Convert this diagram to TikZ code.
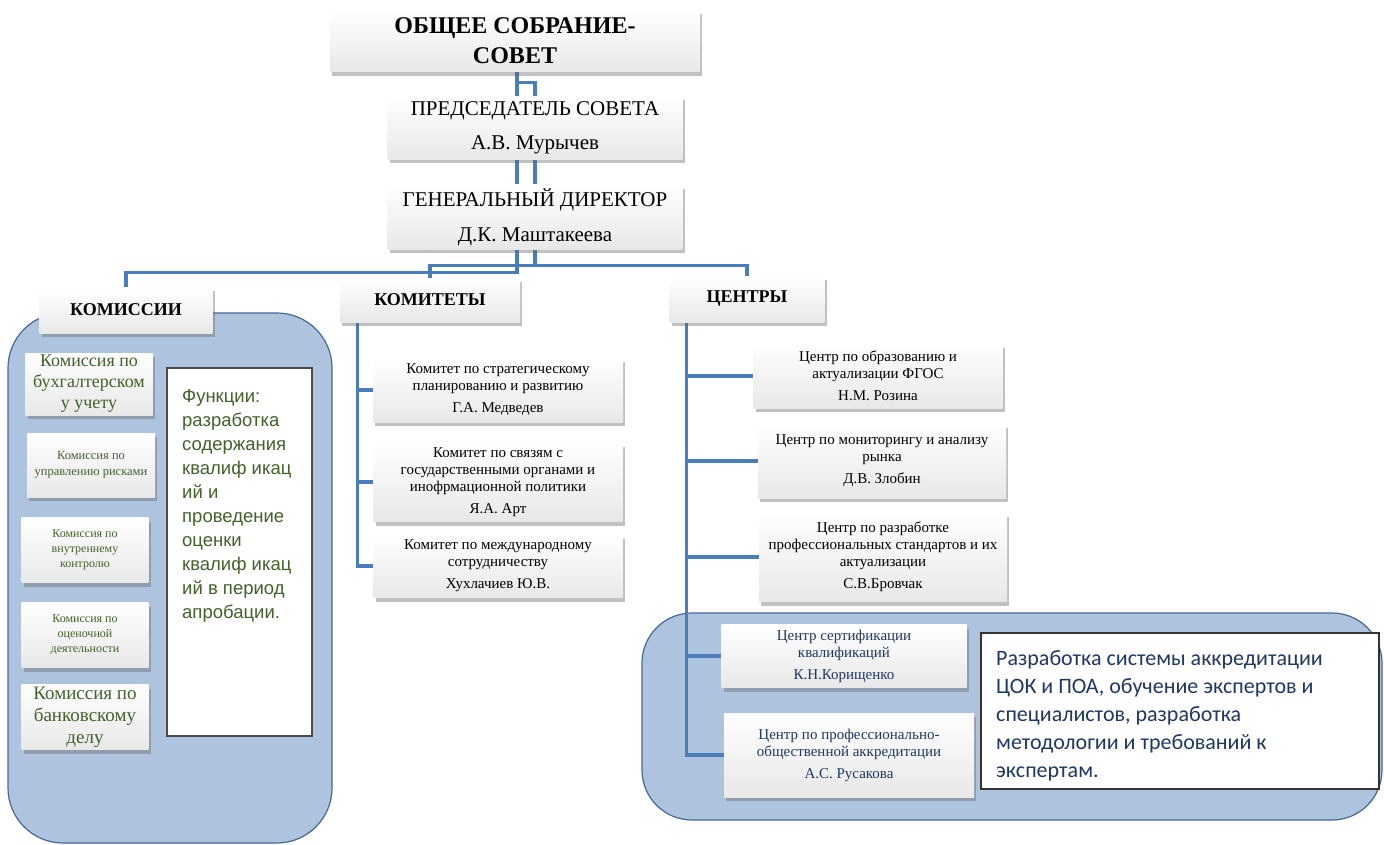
\documentclass[tikz,border=0pt]{standalone}
\usepackage{fontspec}
\setmainfont{Liberation Serif}
\newfontfamily\arialfont{Liberation Sans}
\newfontfamily\calfont{Carlito}
\usetikzlibrary{shadows}

\definecolor{panelblue}{RGB}{173,195,222}
\definecolor{paneledge}{RGB}{72,104,150}
\definecolor{linkblue}{RGB}{74,126,187}
\definecolor{textgreen}{RGB}{66,98,42}
\definecolor{textnavy}{RGB}{31,56,100}

\pgfdeclarelayer{background}
\pgfsetlayers{background,main}

\begin{document}
\begin{tikzpicture}[x=1pt,y=-1pt,
  box/.style={inner sep=2pt,align=center,
    top color=white,bottom color=black!9,
    drop shadow={shadow xshift=2pt,shadow yshift=-4pt,fill=black!60,opacity=.4}},
  head/.style={box,font=\bfseries\fontsize{18}{20}\selectfont},
  komitet/.style={box,font=\fontsize{15}{17}\selectfont},
  komissia/.style={box,text=textgreen,minimum width=127,minimum height=65},
  link/.style={linkblue,line width=3.2pt},
  panel/.style={fill=panelblue,draw=paneledge,line width=1.2pt}]

\useasboundingbox (0,0) rectangle (1384,845);

\node[box,
    minimum width=370,minimum height=62,
    font=\bfseries\fontsize{24}{30}\selectfont] (sobranie) at (515,41) {ОБЩЕЕ СОБРАНИЕ-\\СОВЕТ};

\node[box,
    minimum width=295,minimum height=63,
    font=\fontsize{21}{34}\selectfont] (predsedatel) at (535,128) {ПРЕДСЕДАТЕЛЬ СОВЕТА\\А.В. Мурычев};

\node[box,
    minimum width=295,minimum height=64,
    font=\fontsize{21}{35}\selectfont] (direktor) at (535,217) {ГЕНЕРАЛЬНЫЙ ДИРЕКТОР\\Д.К. Маштакеева};

\node[head,minimum width=173,minimum height=46] (komissii) at (126,310) {КОМИССИИ};
\node[head,minimum width=180,minimum height=44] (komitety) at (430,300) {КОМИТЕТЫ};
\node[head,minimum width=155,minimum height=46] (centry) at (747,299) {ЦЕНТРЫ};

\node[komissia,minimum height=62,
    font=\fontsize{18}{21}\selectfont] (kms1) at (89,384) {Комиссия по\\бухгалтерском\\у учету};
\node[komissia,minimum width=128,minimum height=64,
    font=\fontsize{12.5}{16}\selectfont] (kms2) at (91,465) {Комиссия по\\управлению рисками};
\node[komissia,
    font=\fontsize{12}{15}\selectfont] (kms3) at (85,550) {Комиссия по\\внутреннему\\контролю};
\node[komissia,
    font=\fontsize{12}{15}\selectfont] (kms4) at (85,635) {Комиссия по\\оценочной\\деятельности};
\node[komissia,
    font=\fontsize{19}{22}\selectfont] (kms5) at (85,717) {Комиссия по\\банковскому\\делу};

\node[draw=black!70,line width=1.5pt,fill=white,
    minimum width=145,minimum height=368,anchor=north west] (funkcii) at (166,367) {};
\node[anchor=north west,align=left,text=textgreen,inner sep=0pt,
    font=\arialfont\fontsize{18.5}{24}\selectfont] (funktext) at ([xshift=16pt,yshift=-22pt]funkcii.north west)
    {Функции:\\разработка\\содержания\\квалиф икац\\ий и\\проведение\\оценки\\квалиф икац\\ий в период\\апробации.};

\node[komitet,minimum width=250,minimum height=64] (kom1) at (498,390)
    {Комитет по стратегическому\\планированию и развитию\\[5pt]Г.А. Медведев};
\node[komitet,minimum width=249,minimum height=79] (kom2) at (498,482)
    {Комитет по связям с\\государственными органами и\\инофрмационной политики\\[5pt]Я.А. Арт};
\node[komitet,minimum width=249,minimum height=63] (kom3) at (498,566)
    {Комитет по международному\\сотрудничеству\\[5pt]Хухлачиев  Ю.В.};

\node[komitet,minimum width=249,minimum height=64] (cen1) at (878,376)
    {Центр по образованию и\\актуализации ФГОС\\[5pt]Н.М. Розина};
\node[komitet,minimum width=248,minimum height=74] (cen2) at (882,461)
    {Центр по мониторингу и анализу\\рынка\\[5pt]Д.В. Злобин};
\node[komitet,minimum width=248,minimum height=89] (cen3) at (883,557)
    {Центр по разработке\\профессиональных стандартов и их\\актуализации\\[5pt]С.В.Бровчак};
\node[komitet,text=textnavy,minimum width=245,minimum height=63] (cen4) at (844,656)
    {Центр сертификации\\квалификаций\\[5pt]К.Н.Корищенко};
\node[komitet,text=textnavy,minimum width=250,minimum height=84] (cen5) at (849,755)
    {Центр по профессионально-\\общественной аккредитации\\[5pt]А.С. Русакова};

\node[draw=black!80,line width=1.5pt,fill=white,
    minimum width=398,minimum height=156,anchor=north west] (razrabotka) at (980,632) {};
\node[anchor=north west,align=left,text=textnavy,inner sep=0pt,
    font=\calfont\fontsize{22}{28}\selectfont] (razrtext) at ([xshift=16pt,yshift=-18pt]razrabotka.north west)
    {Разработка системы аккредитации\\ЦОК и ПОА, обучение экспертов и\\специалистов, разработка\\методологии и требований к\\экспертам.};

\begin{pgfonlayer}{background}
\fill[white] (0,0) rectangle (1384,845);
\draw[panel,rounded corners=55pt] (8,313) rectangle (332,843);
\draw[panel,rounded corners=50pt] (642,613) rectangle (1382,820);

\draw[link] ([xshift=2pt]sobranie.south) -- ++(0,200) -| (komissii.north);
\draw[link] ([xshift=2pt]sobranie.south) ++(0,10) -- ++(18,0) -- ++(0,183) coordinate (hub)
    -| (komitety.north) (hub) -| (centry.north);

\foreach \n in {kom1,kom2,kom3}
    \draw[link] ([xshift=18pt]komitety.south west) |- (\n.west);

\foreach \n in {cen1,cen2,cen3,cen4,cen5}
    \draw[link] ([xshift=17pt]centry.south west) |- (\n.west);
\end{pgfonlayer}

\end{tikzpicture}
\end{document}
